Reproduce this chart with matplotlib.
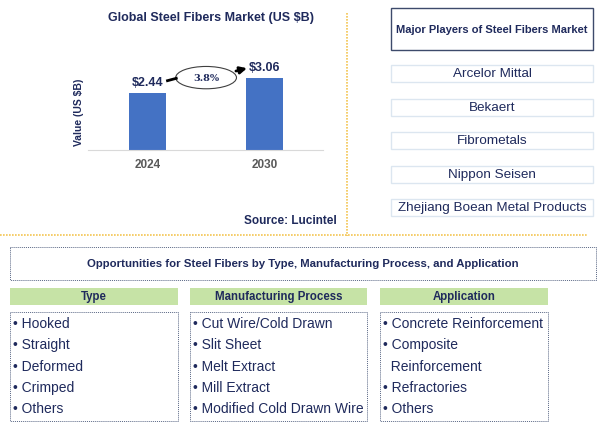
import matplotlib
matplotlib.use("Agg")
import matplotlib.pyplot as plt
from matplotlib.patches import Rectangle, Ellipse

plt.rcParams['font.family'] = ['Liberation Sans', 'DejaVu Sans']

# ---- data ----
years = ["2024", "2030"]
values = [2.44, 3.06]
value_labels = ["$2.44", "$3.06"]
cagr_label = "3.8%"
chart_title = "Global Steel Fibers Market (US $B)"
y_label = "Value (US $B)"
source = "Source: Lucintel"
players_title = "Major Players of Steel Fibers Market"
players = ["Arcelor Mittal", "Bekaert", "Fibrometals", "Nippon Seisen",
           "Zhejiang Boean Metal Products"]
opp_title = "Opportunities for Steel Fibers by Type, Manufacturing Process, and Application"
segment_titles = ["Type", "Manufacturing Process", "Application"]
type_items = ["• Hooked", "• Straight", "• Deformed", "• Crimped", "• Others"]
process_items = ["• Cut Wire/Cold Drawn", "• Slit Sheet", "• Melt Extract",
                 "• Mill Extract", "• Modified Cold Drawn Wire"]
application_items = ["• Concrete Reinforcement", "• Composite", "  Reinforcement",
                     "• Refractories", "• Others"]

NAVY = "#1F2A5C"
BLUE = "#4472C4"
GREEN = "#C6E3A6"
ORANGE = "#F3C552"
BORDER = "#5A6785"

W, H = 606, 435
fig = plt.figure(figsize=(W / 100, H / 100), dpi=100)

# overlay axes in pixel coordinates
ov = fig.add_axes([0, 0, 1, 1])
ov.set_xlim(0, W)
ov.set_ylim(H, 0)
ov.axis("off")

# ---- bar chart ----
L, R, T, B = 88, 323, 57, 151
ax = fig.add_axes([L / W, 1 - B / H, (R - L) / W, (B - T) / H])
x = list(range(len(years)))
ax.bar(x, values, width=0.316, color=BLUE)
ax.set_xlim(-0.51, 1.5)
ax.set_ylim(0, 4.0)
ax.set_yticks([])
ax.set_xticks(x)
ax.set_xticklabels(years, fontsize=8.5, fontweight="bold", color="#595959")
ax.tick_params(axis="x", length=0, pad=6)
for s in ["top", "left", "right"]:
    ax.spines[s].set_visible(False)
ax.spines["bottom"].set_color("#D9D9D9")
ax.patch.set_alpha(0)
for xi, v, lab in zip(x, values, value_labels):
    ax.text(xi, v + 0.47, lab, ha="center", va="center", fontsize=9,
            fontweight="bold", color=NAVY)

# CAGR ellipse and arrows (data coords)
ax.add_patch(Ellipse((0.50, 3.08), 0.52, 0.95, facecolor="white",
                     edgecolor="#404040", lw=0.8, clip_on=False))
ax.text(0.50, 3.08, cagr_label, ha="center", va="center", fontsize=7,
        color=NAVY, family="DejaVu Serif", fontweight="bold")
ax.plot([0.17, 0.245], [2.95, 3.05], color="black", lw=2, clip_on=False)
ax.annotate("", xy=(0.85, 3.48), xytext=(0.755, 3.36),
            arrowprops=dict(arrowstyle="-|>", color="black", lw=2,
                            mutation_scale=10, shrinkA=0, shrinkB=0),
            annotation_clip=False)

fig.text(211 / W, 1 - 18 / H, chart_title, ha="center", va="center",
         fontsize=9, fontweight="bold", color=NAVY)
fig.text(79 / W, 1 - 112 / H, y_label, ha="center", va="center",
         rotation=90, fontsize=7.5, fontweight="bold", color=NAVY)
ov.text(337, 221, source, ha="right", va="center", fontsize=8.5,
        fontweight="bold", color=NAVY)

# dotted orange separators
ov.plot([347, 347], [14, 237], color=ORANGE, lw=1.2, ls=(0, (1, 0.8)))
ov.plot([0, 587], [236, 236], color=ORANGE, lw=1.2, ls=(0, (1, 0.8)))

# ---- players panel ----
ov.add_patch(Rectangle((391, 9), 202, 42, facecolor="white",
                       edgecolor="#3D4A6B", lw=1))
ov.text(492, 30, players_title, ha="center", va="center", fontsize=8,
        fontweight="bold", color=NAVY)
centers = [74, 108, 141, 175, 208]
for c, name in zip(centers, players):
    ov.add_patch(Rectangle((391, c - 8.5), 202, 17, facecolor="white",
                           edgecolor="#DCE6F0", lw=1))
    ov.text(492, c, name, ha="center", va="center", fontsize=9.7, color=NAVY)

# ---- opportunities ----
ov.add_patch(Rectangle((10, 248), 586, 33, facecolor="white",
                       edgecolor=BORDER, lw=0.7, ls=(0, (1, 1))))
ov.text(303, 264, opp_title, ha="center", va="center", fontsize=8.2,
        fontweight="bold", color=NAVY)

cols = [(10, 178), (190, 367), (380, 548)]
items_all = [type_items, process_items, application_items]
rows = [324, 345, 367, 388, 409]
for (x0, x1), title, items in zip(cols, segment_titles, items_all):
    ov.add_patch(Rectangle((x0, 289), x1 - x0, 17, facecolor=GREEN,
                           edgecolor="none"))
    ov.text((x0 + x1) / 2, 297.5, title, ha="center", va="center",
            fontsize=8.3, fontweight="bold", color=NAVY)
    ov.add_patch(Rectangle((x0, 313), x1 - x0, 109, facecolor="white",
                           edgecolor=BORDER, lw=0.7, ls=(0, (1, 1))))
    for r, it in zip(rows, items):
        ov.text(x0 + 3, r, it, ha="left", va="center", fontsize=10,
                color=NAVY)

fig.savefig("out.png", dpi=100)
